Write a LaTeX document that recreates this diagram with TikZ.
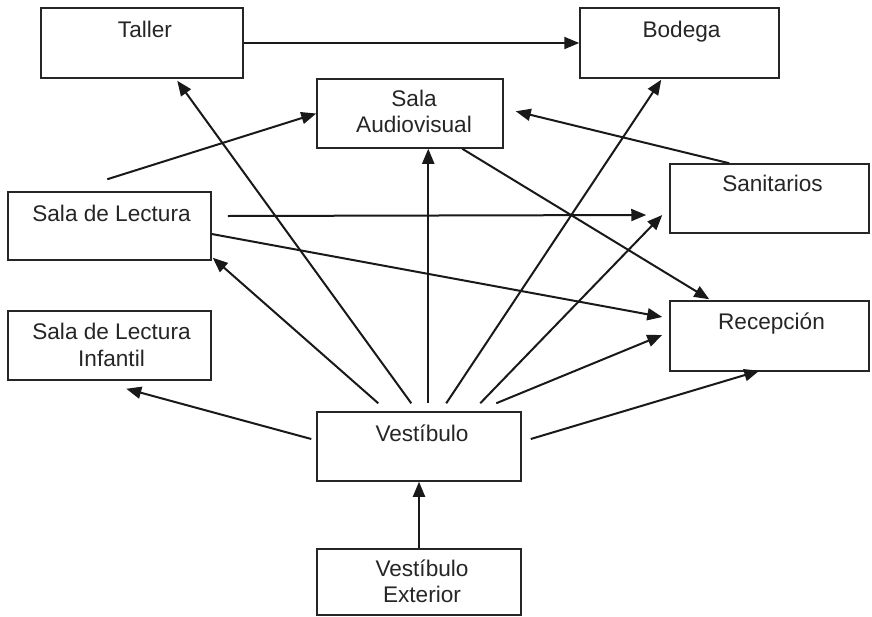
\documentclass[tikz,border=0pt]{standalone}
\usepackage{fontspec}
\setmainfont{Liberation Sans}
\usetikzlibrary{arrows.meta,calc}
\tikzset{
  roombox/.style={draw=black!85, line width=1.5pt, rectangle, inner sep=0pt, fill=white},
  roomtext/.style={anchor=base, inner sep=0pt, text=black!85, font=\fontsize{22.6}{26}\selectfont},
  conn/.style={draw=black!90, line width=2pt, -{Triangle[length=15pt,width=12pt]}},
}
\begin{document}
\begin{tikzpicture}[x=1pt,y=-1pt]
\useasboundingbox[fill=white] (0,0) rectangle (872,616);
\clip (0,0) rectangle (872,616);
% boxes
\node[roombox, minimum width=202pt, minimum height=70pt] (taller) at (142,43) {};
\node[roombox, minimum width=199pt, minimum height=70pt] (bodega) at (679.5,43) {};
\node[roombox, minimum width=186pt, minimum height=69pt] (sav) at (410,113.5) {};
\node[roombox, minimum width=203pt, minimum height=68pt] (sl) at (109.5,226) {};
\node[roombox, minimum width=203pt, minimum height=69pt] (sli) at (109.5,345.5) {};
\node[roombox, minimum width=199pt, minimum height=69pt] (san) at (769.5,198.5) {};
\node[roombox, minimum width=199pt, minimum height=70pt] (rec) at (769.5,336) {};
\node[roombox, minimum width=204pt, minimum height=69pt] (ves) at (419,446.5) {};
\node[roombox, minimum width=204pt, minimum height=66pt] (vex) at (419,582) {};
% texts
\node[roomtext] (taller-t) at ($(taller.north)+(3,30)$) {Taller};
\node[roomtext] (bodega-t) at ($(bodega.north)+(2,30)$) {Bodega};
\node[roomtext] (sav-t1) at ($(sav.north)+(4,28)$) {Sala};
\node[roomtext] (sav-t2) at ($(sav.north)+(4,54)$) {Audiovisual};
\node[roomtext] (sl-t) at ($(sl.north)+(2,30)$) {Sala de Lectura};
\node[roomtext] (sli-t1) at ($(sli.north)+(2,29)$) {Sala de Lectura};
\node[roomtext] (sli-t2) at ($(sli.north)+(2,56)$) {Infantil};
\node[roomtext] (san-t) at ($(san.north)+(3,28)$) {Sanitarios};
\node[roomtext] (rec-t) at ($(rec.north)+(2,29)$) {Recepción};
\node[roomtext] (ves-t) at ($(ves.north)+(3,30)$) {Vestíbulo};
\node[roomtext] (vex-t1) at ($(vex.north)+(3,28)$) {Vestíbulo};
\node[roomtext] (vex-t2) at ($(vex.north)+(3,54)$) {Exterior};
% connectors
\draw[conn] (taller.east) -- (bodega.west);
\draw[conn] ($(ves.north west)+(95,-8)$) -- ($(taller.south west)+(137,2)$);
\draw[conn] ($(ves.north west)+(62,-8)$) -- ($(sl.south east)+(1,-3)$);
\draw[conn] ($(ves.north west)+(112,-8)$) -- ($(sav.south west)+(112,0)$);
\draw[conn] ($(ves.north west)+(130,-8)$) -- ($(bodega.south west)+(82,1)$);
\draw[conn] ($(ves.north west)+(164,-8)$) -- ($(san.west)+(-7,16.5)$);
\draw[conn] ($(ves.north west)+(180,-8)$) -- ($(rec.west)+(-7,-1)$);
\draw[conn] ($(ves.east)+(9,-7.5)$) -- ($(rec.south west)+(90,-1)$);
\draw[conn] ($(ves.west)+(-5,-7.5)$) -- ($(sli.south west)+(119,8)$);
\draw[conn] (vex.north) -- (ves.south);
\draw[conn] ($(sl.north west)+(100,-12)$) -- (sav.west);
\draw[conn] ($(sl.east)+(16,-10)$) -- ($(san.west)+(-23,16.5)$);
\draw[conn] ($(sl.east)+(0,8)$) -- ($(rec.west)+(-7,-19)$);
\draw[conn] ($(sav.south west)+(146,0)$) -- ($(rec.north west)+(40,-1)$);
\draw[conn] ($(san.north west)+(60,0)$) -- ($(sav.north east)+(12,33)$);
\end{tikzpicture}
\end{document}
